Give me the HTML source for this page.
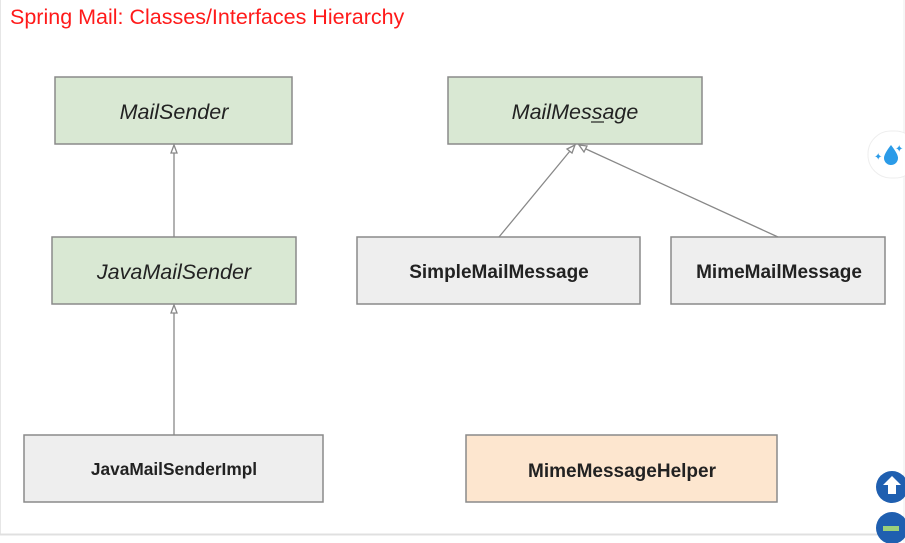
<!DOCTYPE html>
<html><head><meta charset="utf-8"><style>
html,body{margin:0;padding:0;background:#fff;width:905px;height:543px;overflow:hidden}
svg{display:block}
text{font-family:"Liberation Sans",sans-serif}
</style></head><body>
<svg width="905" height="543" viewBox="0 0 905 543" xmlns="http://www.w3.org/2000/svg">
<rect width="905" height="543" fill="#fff"/>
<line x1="0.5" y1="0" x2="0.5" y2="534" stroke="#e6e6e6"/>
<line x1="0" y1="534.5" x2="905" y2="534.5" stroke="#e0e0e0" stroke-width="2"/>
<line x1="904" y1="0" x2="904" y2="543" stroke="#eee"/>
<text x="10" y="24" font-size="21.5" fill="#ff1a1a">Spring Mail: Classes/Interfaces Hierarchy</text>
<g stroke="#8a8a8a" stroke-width="1.5">
<rect x="55" y="77" width="237" height="67" fill="#d9e8d3"/>
<rect x="448" y="77" width="254" height="67" fill="#d9e8d3"/>
<rect x="52" y="237" width="244" height="67" fill="#d9e8d3"/>
<rect x="357" y="237" width="283" height="67" fill="#eeeeee"/>
<rect x="671" y="237" width="214" height="67" fill="#eeeeee"/>
<rect x="24" y="435" width="299" height="67" fill="#eeeeee"/>
<rect x="466" y="435" width="311" height="67" fill="#fde6cf"/>
</g>
<g stroke="#888" stroke-width="1.3" fill="#fff">
<line x1="174" y1="237" x2="174" y2="152"/>
<polygon points="174,145 171,153 177,153"/>
<line x1="174" y1="435" x2="174" y2="312"/>
<polygon points="174,305 171,313 177,313"/>
<line x1="499" y1="237" x2="570" y2="151"/>
<polygon points="575,145 567,149 572,153"/>
<line x1="778" y1="237" x2="586" y2="149"/>
<polygon points="579,145 584,152 587,146"/>
</g>
<g font-size="21.5" font-style="italic" fill="#222" text-anchor="middle">
<text x="174" y="119">MailSender</text>
<text x="575" y="119">MailMessage</text>
<text x="174" y="279">JavaMailSender</text>
</g>
<line x1="591" y1="122" x2="604" y2="122" stroke="#222" stroke-width="1.2"/>
<g font-size="19" font-weight="bold" fill="#222" text-anchor="middle">
<text x="499" y="278">SimpleMailMessage</text>
<text x="779" y="278">MimeMailMessage</text>
<text x="174" y="475" font-size="17.3">JavaMailSenderImpl</text>
<text x="622" y="477">MimeMessageHelper</text>
</g>
<rect x="868" y="131" width="50" height="47" rx="23" fill="#fff" stroke="#eee"/>
<path d="M891 145 q-7 9 -7 13 a7 7 0 0 0 14 0 q0 -4 -7 -13z" fill="#2b9be8"/>
<text x="874" y="160" font-size="10" fill="#2b9be8">✦</text>
<text x="895" y="152" font-size="10" fill="#2b9be8">✦</text>
<circle cx="892" cy="487" r="16" fill="#1f5fb0"/>
<path d="M892 476 l-9 9 h5 v9 h8 v-9 h5z" fill="#fff"/>
<circle cx="892" cy="528" r="16" fill="#1f5fb0"/>
<rect x="883" y="526" width="16" height="5" fill="#9ad07a"/>
</svg>
</body></html>
